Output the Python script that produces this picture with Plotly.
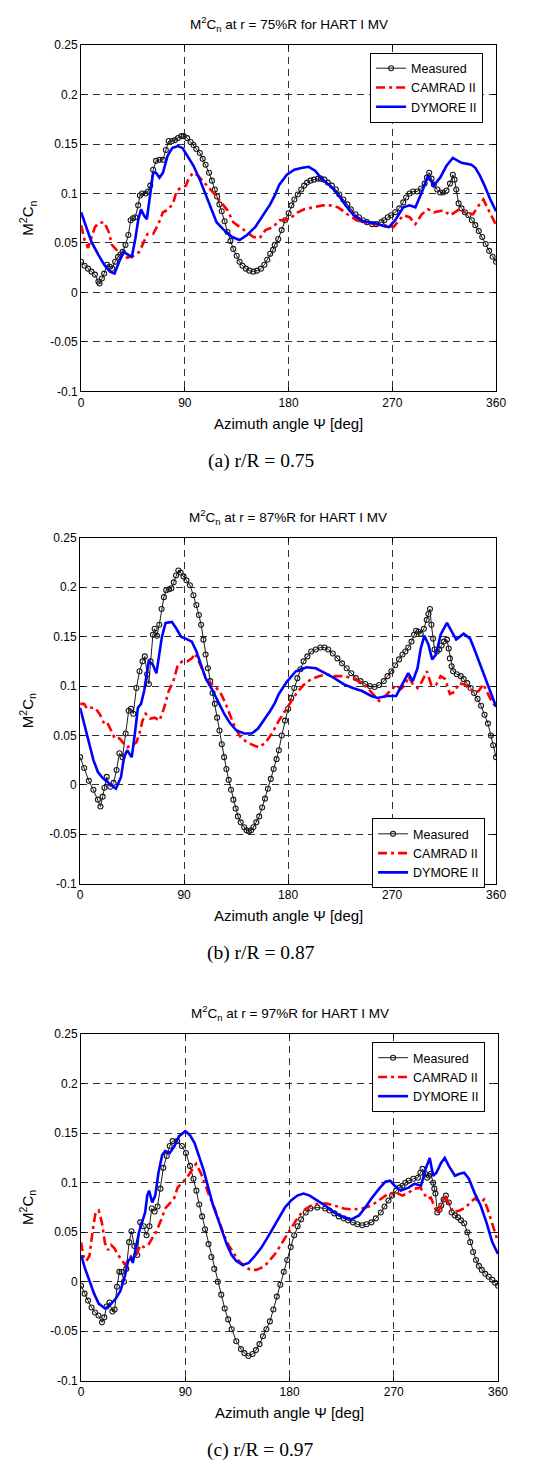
import plotly.graph_objects as go

# ---------------- Panel (a) r/R = 0.75 ----------------
a_meas_az = [0, 3, 6, 9, 12, 15, 16, 18, 20, 22.5, 25, 27, 29.5, 32, 34, 36, 38.5, 41, 43, 45, 47, 49.5, 51, 53, 56, 58, 60, 62.5, 65, 68, 71, 73.5, 76, 79, 81.5, 84, 87, 89, 92, 95, 97.5, 100, 103, 105.5, 108, 111, 113.5, 116, 118, 120, 122, 124.5, 127, 129.5, 132, 135, 137.5, 140, 143, 146, 149.5, 152.5, 156, 159, 161.5, 164, 166.5, 168, 171, 174, 177, 180, 182.5, 185, 188, 191, 193.5, 196, 199, 202, 205.5, 208, 211, 214, 217.5, 221, 224, 227.5, 231, 234, 238, 241, 244.5, 248, 252.5, 256, 260.5, 263, 266, 269, 272.5, 276, 279.5, 282, 285, 288, 291.5, 295, 298, 300, 302, 304, 306, 309, 311.5, 314, 317, 320, 322.5, 324, 325.5, 327.5, 330, 333, 336, 339, 342, 345, 348, 351, 354, 357, 360]
a_meas_val = [0.031, 0.027, 0.024, 0.021, 0.018, 0.011, 0.009, 0.014, 0.019, 0.028, 0.026, 0.024, 0.031, 0.036, 0.038, 0.041, 0.048, 0.058, 0.073, 0.075, 0.076, 0.088, 0.098, 0.100, 0.100, 0.102, 0.108, 0.124, 0.133, 0.134, 0.134, 0.144, 0.153, 0.153, 0.154, 0.156, 0.158, 0.158, 0.156, 0.152, 0.149, 0.145, 0.141, 0.135, 0.129, 0.121, 0.113, 0.104, 0.097, 0.089, 0.082, 0.072, 0.061, 0.052, 0.044, 0.037, 0.031, 0.027, 0.024, 0.022, 0.021, 0.022, 0.024, 0.028, 0.033, 0.039, 0.043, 0.048, 0.054, 0.063, 0.073, 0.080, 0.088, 0.094, 0.099, 0.104, 0.108, 0.111, 0.113, 0.114, 0.115, 0.115, 0.114, 0.111, 0.108, 0.104, 0.099, 0.094, 0.089, 0.084, 0.079, 0.076, 0.073, 0.071, 0.069, 0.069, 0.071, 0.073, 0.076, 0.078, 0.081, 0.085, 0.091, 0.096, 0.100, 0.102, 0.102, 0.105, 0.110, 0.116, 0.121, 0.115, 0.109, 0.104, 0.101, 0.101, 0.103, 0.110, 0.119, 0.114, 0.104, 0.090, 0.085, 0.081, 0.078, 0.073, 0.068, 0.062, 0.056, 0.049, 0.042, 0.036, 0.031]

a_cam_az = [0, 3, 6, 9, 12, 15, 20, 24, 26.7, 30.7, 36, 40, 45.5, 50.5, 53.5, 57.5, 62.5, 67, 71, 76, 80, 83, 87, 91, 93.5, 97.5, 101.5, 105.5, 111, 116, 121.5, 127, 132, 137.5, 144, 149.5, 155, 160, 166.5, 172, 177, 182.5, 188, 193.5, 201.5, 209.5, 216, 223, 231, 239, 247, 255, 263, 271, 279.5, 285, 290, 295.5, 301, 306, 314, 320.5, 328, 333, 340, 345, 349, 354, 360]
a_cam_val = [0.068, 0.053, 0.045, 0.055, 0.066, 0.070, 0.071, 0.061, 0.048, 0.043, 0.041, 0.035, 0.037, 0.041, 0.048, 0.059, 0.059, 0.069, 0.081, 0.084, 0.091, 0.103, 0.106, 0.108, 0.116, 0.121, 0.118, 0.113, 0.106, 0.099, 0.091, 0.083, 0.071, 0.066, 0.061, 0.056, 0.055, 0.063, 0.066, 0.073, 0.073, 0.076, 0.081, 0.084, 0.086, 0.088, 0.088, 0.086, 0.079, 0.073, 0.070, 0.069, 0.068, 0.066, 0.078, 0.076, 0.069, 0.079, 0.084, 0.081, 0.083, 0.078, 0.084, 0.081, 0.079, 0.088, 0.094, 0.082, 0.068]

a_dym_az = [0, 4, 9, 15, 20, 25, 29, 33, 37, 41, 44, 47, 49.5, 52, 54.5, 57, 60, 62.5, 65, 68, 71, 75, 79, 84, 88, 92, 97.5, 103, 108, 113.5, 117.5, 124, 131, 137.5, 144, 151, 157.5, 164, 168, 172, 178.5, 185, 192, 197.5, 203, 209.5, 216, 223, 229.5, 236.5, 244.5, 255, 263, 267, 272.5, 279.5, 285, 290, 295.5, 301, 306, 311.5, 317, 322.5, 330, 338.5, 342, 346, 350, 355, 360]
a_dym_val = [0.081, 0.068, 0.051, 0.038, 0.028, 0.021, 0.019, 0.031, 0.041, 0.038, 0.036, 0.054, 0.073, 0.084, 0.078, 0.074, 0.098, 0.121, 0.121, 0.116, 0.121, 0.138, 0.146, 0.148, 0.146, 0.139, 0.128, 0.114, 0.099, 0.084, 0.071, 0.063, 0.056, 0.053, 0.058, 0.066, 0.078, 0.089, 0.098, 0.109, 0.119, 0.124, 0.126, 0.127, 0.123, 0.114, 0.108, 0.099, 0.088, 0.078, 0.072, 0.070, 0.067, 0.066, 0.073, 0.086, 0.088, 0.086, 0.101, 0.118, 0.108, 0.116, 0.128, 0.136, 0.131, 0.129, 0.126, 0.118, 0.108, 0.094, 0.082]

# ---------------- Panel (b) r/R = 0.87 ----------------
b_meas_az = [0, 3.5, 7.5, 11.5, 15.4, 17.6, 19.5, 21, 23, 26, 29, 31.5, 34, 36.7, 39.4, 42, 44, 46, 48.7, 51.4, 54, 56, 58, 59.5, 61, 63, 64.5, 66.5, 68.5, 70.5, 72.5, 74.5, 77, 79, 81, 83, 85, 87, 89.5, 92, 95, 98, 100.6, 102.8, 104.7, 106.7, 108.6, 110.6, 112.6, 114.6, 116.6, 118.6, 120.6, 122.6, 124.6, 126.6, 128.6, 130.6, 132.6, 134.6, 136.6, 139, 142, 144, 146, 148, 150, 152.5, 155, 157.5, 160, 162.5, 165, 167.5, 170, 172, 174.5, 177.3, 180, 182.7, 185.3, 188, 190.7, 193.4, 196.7, 200, 204, 208, 211.5, 214.7, 218.7, 222.7, 226.7, 230.7, 234.7, 238.7, 242.7, 246.8, 250.8, 254.8, 258.8, 262.8, 266, 269.4, 272.7, 276, 279, 281.5, 284, 286.8, 289, 290.8, 292.8, 294.8, 297.5, 300, 301.5, 302.8, 304, 305.5, 306.8, 308.8, 310.8, 312.8, 314.8, 317.5, 319, 320, 321.5, 322.8, 326, 329.5, 332, 335, 338, 341, 344, 347, 350, 353, 355.5, 357.5, 360]
b_meas_val = [0.028, 0.017, 0.004, -0.005, -0.015, -0.022, -0.012, -0.003, 0.008, -0.002, 0.002, 0.015, 0.032, 0.028, 0.052, 0.075, 0.077, 0.072, 0.098, 0.115, 0.125, 0.130, 0.112, 0.102, 0.125, 0.152, 0.158, 0.151, 0.162, 0.178, 0.190, 0.197, 0.198, 0.199, 0.205, 0.212, 0.217, 0.215, 0.211, 0.207, 0.202, 0.192, 0.182, 0.172, 0.162, 0.147, 0.132, 0.118, 0.105, 0.093, 0.082, 0.068, 0.055, 0.041, 0.028, 0.016, 0.005, -0.005, -0.015, -0.024, -0.032, -0.038, -0.043, -0.046, -0.047, -0.046, -0.043, -0.038, -0.032, -0.023, -0.014, -0.004, 0.006, 0.016, 0.026, 0.035, 0.050, 0.065, 0.077, 0.088, 0.098, 0.108, 0.117, 0.125, 0.130, 0.135, 0.137, 0.139, 0.139, 0.137, 0.133, 0.128, 0.123, 0.118, 0.113, 0.108, 0.105, 0.102, 0.100, 0.099, 0.101, 0.105, 0.110, 0.115, 0.121, 0.127, 0.132, 0.135, 0.139, 0.145, 0.152, 0.156, 0.155, 0.153, 0.158, 0.167, 0.173, 0.178, 0.162, 0.148, 0.137, 0.135, 0.137, 0.141, 0.145, 0.147, 0.138, 0.128, 0.120, 0.115, 0.112, 0.110, 0.107, 0.103, 0.098, 0.093, 0.087, 0.080, 0.071, 0.062, 0.050, 0.040, 0.028]

b_cam_az = [0, 3.5, 6, 8.8, 12.8, 16.8, 20.8, 23.4, 26, 30, 34, 38, 40.7, 44.7, 48.7, 51.4, 54, 56.7, 60.7, 64.7, 68.7, 72.7, 76.7, 80.7, 84.7, 88.7, 92.7, 96.7, 99.3, 102, 106, 110, 114, 118, 122, 126, 130, 134, 139, 144.6, 150, 155, 160.6, 166, 172, 177.3, 182.7, 188, 193.4, 200, 206.7, 213.4, 220, 228, 236, 244, 249.4, 254.8, 258.8, 264, 269.5, 273.5, 277.5, 281.5, 284, 288, 292, 296, 300, 304, 308, 312, 316, 320, 324, 328, 333.5, 341, 345, 349, 353, 357, 360]
b_cam_val = [0.082, 0.082, 0.077, 0.078, 0.078, 0.072, 0.062, 0.063, 0.057, 0.047, 0.047, 0.042, 0.038, 0.040, 0.043, 0.052, 0.065, 0.072, 0.067, 0.068, 0.065, 0.078, 0.095, 0.105, 0.122, 0.125, 0.125, 0.128, 0.133, 0.127, 0.115, 0.105, 0.102, 0.098, 0.092, 0.082, 0.070, 0.058, 0.048, 0.043, 0.040, 0.038, 0.043, 0.052, 0.065, 0.075, 0.085, 0.094, 0.101, 0.107, 0.110, 0.112, 0.110, 0.110, 0.108, 0.103, 0.097, 0.090, 0.085, 0.090, 0.097, 0.101, 0.097, 0.101, 0.110, 0.102, 0.098, 0.105, 0.115, 0.101, 0.101, 0.110, 0.107, 0.092, 0.094, 0.103, 0.101, 0.093, 0.095, 0.102, 0.092, 0.083, 0.079]

b_dym_az = [0, 3.5, 7.5, 11.5, 15.4, 19.4, 23.4, 27.4, 31, 35.4, 38, 40.7, 44.7, 47.4, 50, 52.7, 55.4, 59.4, 62.8, 66, 68, 70.8, 74, 79.4, 83.4, 87.3, 91.3, 96.7, 100.7, 104.7, 108.6, 114, 119.3, 124.6, 130, 135.3, 142, 148.6, 154, 159, 164.6, 168.6, 172, 178.7, 186.7, 196, 204, 212, 220, 228, 236, 244, 252, 257.4, 265.4, 273.5, 278.8, 284, 288, 292, 294.8, 298, 301.5, 304.7, 308, 312, 317.5, 321.5, 325.5, 332, 337.5, 341, 346, 352, 360]
b_dym_val = [0.078, 0.062, 0.042, 0.025, 0.013, 0.007, 0.003, -0.001, -0.004, 0.008, 0.028, 0.035, 0.028, 0.052, 0.078, 0.082, 0.095, 0.125, 0.122, 0.113, 0.128, 0.150, 0.164, 0.165, 0.158, 0.150, 0.148, 0.145, 0.135, 0.122, 0.108, 0.097, 0.085, 0.072, 0.062, 0.055, 0.052, 0.052, 0.057, 0.065, 0.075, 0.083, 0.092, 0.104, 0.115, 0.119, 0.118, 0.113, 0.108, 0.102, 0.098, 0.095, 0.090, 0.088, 0.090, 0.090, 0.102, 0.113, 0.105, 0.118, 0.138, 0.151, 0.142, 0.127, 0.132, 0.152, 0.164, 0.155, 0.147, 0.153, 0.148, 0.138, 0.122, 0.104, 0.079]

# ---------------- Panel (c) r/R = 0.97 ----------------
c_meas_az = [0, 3, 6, 9, 12, 15, 18, 20, 22, 24.5, 27, 29, 31, 33, 35, 37, 39, 41.5, 43.5, 46, 48.5, 51, 54, 56.5, 59, 61, 63.5, 66, 68.5, 71, 74, 76.5, 79, 83, 87, 90.5, 94, 97, 99.5, 102, 104.5, 107, 110, 112.5, 115, 118, 121, 124, 127, 130, 134, 138, 141, 144.5, 148, 151, 154, 157, 160, 163, 166, 169, 172, 175, 178, 181, 184, 187, 190, 194, 198, 204, 210.7, 214.5, 218.7, 222.5, 226.7, 230.5, 234.7, 238.5, 242.7, 246.5, 250.7, 254.5, 258.8, 262, 265.4, 268.5, 272, 275, 277.5, 280, 282.8, 286.8, 290.8, 293, 294.8, 297, 298.8, 300.5, 302, 304, 305, 306, 307.6, 309.5, 311, 313, 315, 317.5, 320, 322.8, 325.5, 328, 330.8, 333.5, 336, 338.5, 341, 343.5, 346, 349, 352, 355, 357.5, 360]
c_meas_val = [-0.004, -0.012, -0.019, -0.026, -0.031, -0.034, -0.041, -0.036, -0.025, -0.021, -0.030, -0.028, -0.005, 0.010, 0.010, 0.000, 0.013, 0.040, 0.051, 0.036, 0.027, 0.060, 0.056, 0.047, 0.056, 0.074, 0.071, 0.076, 0.094, 0.115, 0.127, 0.137, 0.142, 0.142, 0.137, 0.130, 0.117, 0.104, 0.092, 0.078, 0.066, 0.053, 0.038, 0.025, 0.013, 0.000, -0.013, -0.027, -0.038, -0.048, -0.060, -0.068, -0.072, -0.075, -0.073, -0.069, -0.063, -0.055, -0.048, -0.040, -0.028, -0.015, -0.003, 0.010, 0.022, 0.035, 0.047, 0.056, 0.063, 0.070, 0.074, 0.075, 0.074, 0.072, 0.069, 0.066, 0.064, 0.062, 0.060, 0.058, 0.057, 0.058, 0.060, 0.064, 0.070, 0.076, 0.082, 0.087, 0.092, 0.095, 0.097, 0.100, 0.102, 0.104, 0.105, 0.110, 0.114, 0.109, 0.105, 0.107, 0.109, 0.100, 0.094, 0.089, 0.070, 0.073, 0.077, 0.083, 0.087, 0.080, 0.070, 0.067, 0.065, 0.062, 0.059, 0.050, 0.040, 0.030, 0.022, 0.016, 0.012, 0.008, 0.005, 0.002, -0.001, -0.004]

c_cam_az = [0, 1.9, 4.5, 7.2, 9.9, 12.5, 15.2, 17.9, 20.6, 23.2, 25.9, 28.6, 32.6, 35.2, 38, 40.6, 43.3, 47.3, 51.3, 54, 58, 62, 64.6, 68.6, 72.6, 76.6, 80.6, 83.3, 87.3, 91.3, 95.3, 99.3, 103.3, 107.3, 111.3, 115.3, 119.3, 123.4, 127.4, 131.4, 135.4, 140.7, 146, 151.4, 155.4, 159.4, 163.4, 167.4, 170.7, 176, 181.3, 186.7, 192, 198.7, 205.4, 212, 218.7, 226.7, 234.7, 242.7, 250.7, 258.8, 265.4, 272, 277.5, 282.8, 288, 293, 296, 298.8, 302, 305.5, 307.6, 311, 314, 317.5, 321.5, 326.8, 332, 336, 340, 345, 348, 352, 356, 360]
c_cam_val = [0.040, 0.026, 0.021, 0.026, 0.051, 0.070, 0.072, 0.060, 0.039, 0.032, 0.037, 0.034, 0.026, 0.022, 0.017, 0.021, 0.026, 0.027, 0.037, 0.035, 0.037, 0.045, 0.050, 0.061, 0.074, 0.079, 0.085, 0.095, 0.100, 0.105, 0.112, 0.119, 0.110, 0.097, 0.085, 0.074, 0.061, 0.047, 0.037, 0.029, 0.022, 0.016, 0.012, 0.012, 0.014, 0.017, 0.022, 0.028, 0.034, 0.044, 0.054, 0.064, 0.072, 0.077, 0.079, 0.079, 0.077, 0.074, 0.073, 0.074, 0.077, 0.084, 0.089, 0.090, 0.087, 0.090, 0.094, 0.095, 0.089, 0.084, 0.085, 0.074, 0.069, 0.077, 0.087, 0.079, 0.070, 0.072, 0.075, 0.080, 0.084, 0.080, 0.083, 0.070, 0.055, 0.040]

c_dym_az = [0, 3.2, 7.2, 11.2, 15.2, 20.6, 24.6, 30, 34, 38, 40.6, 43.3, 44.6, 47.3, 50, 52.6, 55.3, 57.1, 58.7, 61.4, 64, 66.8, 70, 72.6, 76.6, 80.6, 84.6, 90, 94, 98, 102, 106, 110, 114, 118, 122, 126, 130, 134, 139.4, 144.7, 150, 155.4, 160.7, 166, 170.7, 176, 181.3, 186.7, 192, 197.4, 204, 210.7, 218.7, 226.7, 233.4, 240, 245.4, 250.7, 257.4, 262.8, 266.8, 270.8, 276, 282.8, 288, 293.5, 297.5, 301, 304, 306.8, 310.8, 314, 317.5, 322.8, 326.8, 330.8, 334.8, 340, 345, 350, 355, 360]
c_dym_val = [0.027, 0.014, 0.001, -0.012, -0.022, -0.027, -0.024, -0.017, -0.009, 0.007, 0.021, 0.024, 0.019, 0.034, 0.050, 0.060, 0.070, 0.087, 0.092, 0.080, 0.087, 0.110, 0.128, 0.132, 0.130, 0.137, 0.147, 0.152, 0.148, 0.140, 0.127, 0.112, 0.094, 0.077, 0.064, 0.050, 0.037, 0.027, 0.021, 0.017, 0.019, 0.026, 0.034, 0.044, 0.055, 0.065, 0.075, 0.082, 0.087, 0.089, 0.087, 0.082, 0.077, 0.070, 0.065, 0.063, 0.067, 0.075, 0.084, 0.094, 0.101, 0.102, 0.097, 0.092, 0.095, 0.099, 0.097, 0.114, 0.125, 0.107, 0.110, 0.120, 0.125, 0.117, 0.107, 0.109, 0.110, 0.104, 0.089, 0.077, 0.060, 0.040, 0.028]

# ---------------- Text ----------------
titles = ["M<sup>2</sup>C<sub>n</sub> at r = 75%R for HART I MV",
          "M<sup>2</sup>C<sub>n</sub> at r = 87%R for HART I MV",
          "M<sup>2</sup>C<sub>n</sub> at r = 97%R for HART I MV"]
captions = ["(a) r/R = 0.75", "(b) r/R = 0.87", "(c) r/R = 0.97"]
series_names = ["Measured", "CAMRAD II", "DYMORE II"]
x_ticks = [0, 90, 180, 270, 360]
y_ticks = [-0.1, -0.05, 0, 0.05, 0.1, 0.15, 0.2, 0.25]
y_ticktext = ["-0.1", "-0.05", "0", "0.05", "0.1", "0.15", "0.2", "0.25"]
x_title = "Azimuth angle Ψ [deg]"
y_title = "M<sup>2</sup>C<sub>n</sub>"

panels = [
    (a_meas_az, a_meas_val, a_cam_az, a_cam_val, a_dym_az, a_dym_val),
    (b_meas_az, b_meas_val, b_cam_az, b_cam_val, b_dym_az, b_dym_val),
    (c_meas_az, c_meas_val, c_cam_az, c_cam_val, c_dym_az, c_dym_val),
]

W, H = 550, 1472
# pixel layout of each plot box: (left, right, top, bottom)
boxes = [(80, 505, 38.5, 388), (79, 505, 536, 885), (80, 507, 1037, 1387)]
legend_pos = [(376, 46), (378, 819), (378, 1045)]

SANS = "Liberation Sans, Arial, Helvetica, sans-serif"
SERIF = "Liberation Serif, Times New Roman, serif"

fig = go.Figure()
layout = dict(width=W, height=H, margin=dict(l=0, r=0, t=0, b=0),
              paper_bgcolor="white", plot_bgcolor="white", showlegend=True)
annotations = []

for i, (ma, mv, ca, cv, da, dv) in enumerate(panels):
    sfx = "" if i == 0 else str(i + 1)
    xa, ya = "x" + sfx, "y" + sfx
    lg = "legend" + sfx
    fig.add_trace(go.Scatter(x=ma, y=mv, mode="lines+markers", name=series_names[0],
                             line=dict(color="black", width=0.9),
                             marker=dict(symbol="circle-open", size=5, color="#1a1a1a",
                                         line=dict(width=1.1)),
                             xaxis=xa, yaxis=ya, legend=lg))
    fig.add_trace(go.Scatter(x=ca, y=cv, mode="lines", name=series_names[1],
                             line=dict(color="#ff0000", width=2.6, dash="9px,4px,3px,4px"),
                             xaxis=xa, yaxis=ya, legend=lg))
    fig.add_trace(go.Scatter(x=da, y=dv, mode="lines", name=series_names[2],
                             line=dict(color="#0000ff", width=2.6),
                             xaxis=xa, yaxis=ya, legend=lg))

    l, r, t, b = boxes[i]
    common = dict(showgrid=True, gridcolor="#303030", gridwidth=1, griddash="7px,5px",
                  showline=True, linecolor="black", linewidth=1, mirror="ticks",
                  ticks="inside", ticklen=4, tickcolor="black", zeroline=False,
                  tickfont=dict(family=SANS, size=12, color="black"), fixedrange=True)
    layout["xaxis" + sfx] = dict(common, domain=[l / W, r / W], range=[0, 360],
                                 tickmode="array", tickvals=x_ticks, anchor=ya)
    layout["yaxis" + sfx] = dict(common, domain=[1 - b / H, 1 - t / H], range=[-0.1, 0.25],
                                 tickmode="array", tickvals=y_ticks, ticktext=y_ticktext,
                                 anchor=xa)
    lx, ly = legend_pos[i]
    layout[lg] = dict(x=lx / W, y=1 - ly / H, xanchor="left", yanchor="top",
                      bgcolor="white", bordercolor="black", borderwidth=1,
                      font=dict(family=SANS, size=12.5, color="black"),
                      tracegroupgap=0, itemwidth=30)

    cx = (l + r) / 2
    annotations.append(dict(text=titles[i], x=cx / W, y=1 - (t - 21) / H, xref="paper", yref="paper",
                            showarrow=False, xanchor="center", yanchor="middle",
                            font=dict(family=SANS, size=13.5, color="black")))
    annotations.append(dict(text=x_title, x=cx / W, y=1 - (b + 32) / H, xref="paper", yref="paper",
                            showarrow=False, xanchor="center", yanchor="middle",
                            font=dict(family=SANS, size=15, color="black")))
    annotations.append(dict(text=captions[i], x=264 / W, y=1 - (b + 70) / H, xref="paper", yref="paper",
                            showarrow=False, xanchor="center", yanchor="middle",
                            font=dict(family=SERIF, size=19.5, color="black")))
    annotations.append(dict(text=y_title, x=25 / W, y=1 - ((t + b) / 2) / H, xref="paper", yref="paper",
                            showarrow=False, xanchor="center", yanchor="middle", textangle=-90,
                            font=dict(family=SANS, size=15, color="black")))

layout["annotations"] = annotations
fig.update_layout(**layout)
fig.write_html("out.html")
